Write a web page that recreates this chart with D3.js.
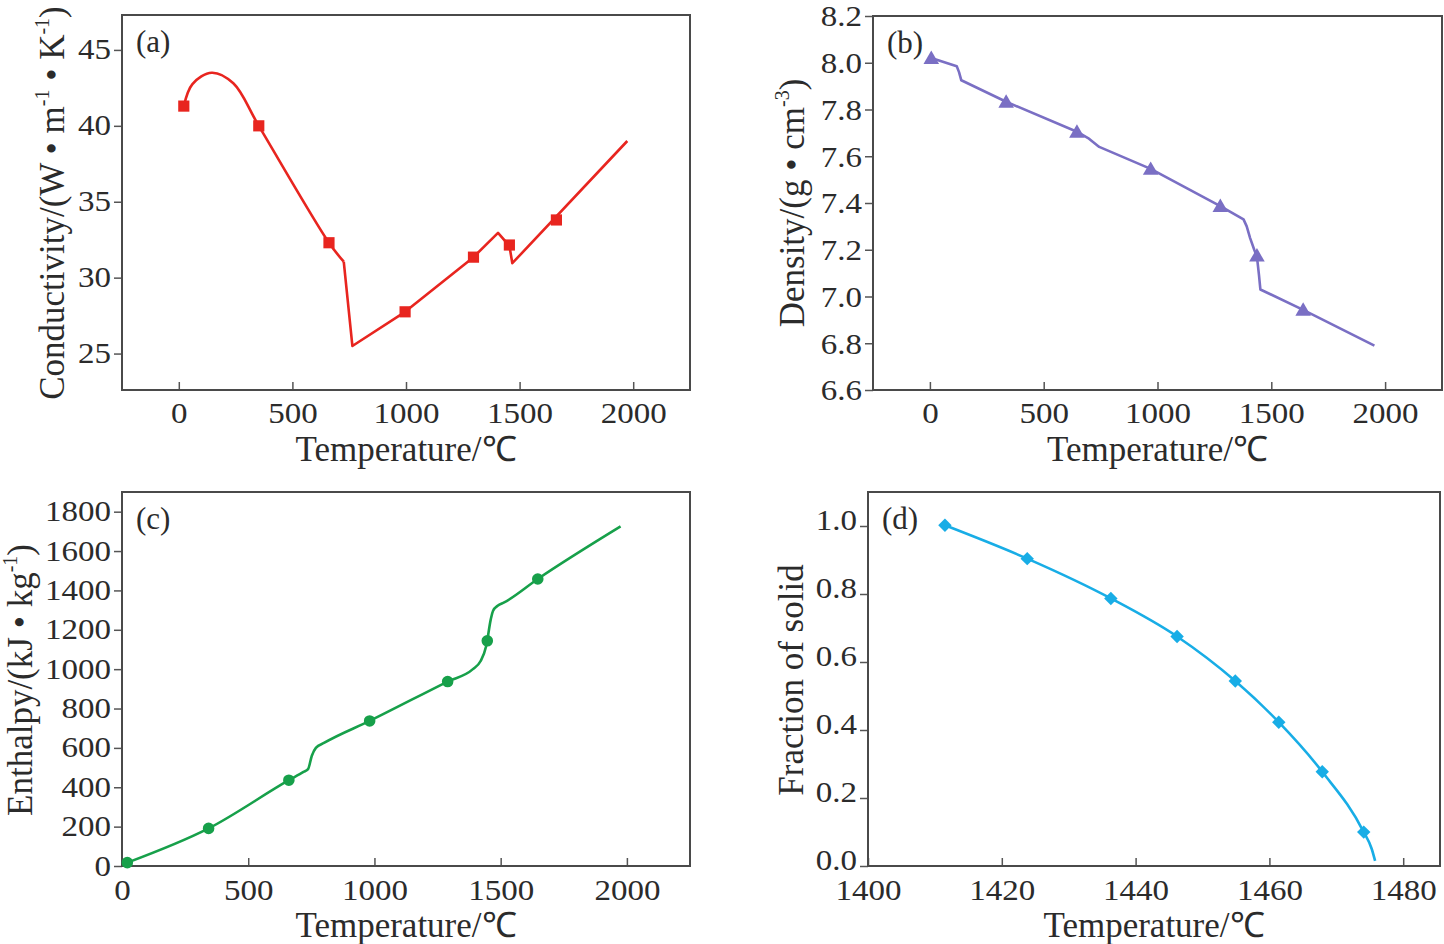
<!DOCTYPE html>
<html>
<head>
<meta charset="utf-8">
<script src="https://cdn.jsdelivr.net/npm/d3@7"></script>
<style>
  html, body { margin: 0; padding: 0; background: #fff; }
  svg { display: block; }
  text { font-family: "Liberation Serif", "Times New Roman", serif; fill: #2b2b2b; }
</style>
</head>
<body>
<svg id="chart" width="1444" height="944"></svg>
<script>
// ---------- DATA ----------
// (a) Conductivity
const condSmooth = [[22,41.3],[60,42.75],[145,43.5],[240,42.8],[352,40.0],[661,32.3],[726,31.05]];
const condLinear = [[726,31.05],[764,25.5],[996,27.75],[1297,31.35],[1405,32.95],[1455,32.1],[1468,30.95],[1974,39.0]];
const condMarkers = [[22,41.3],[352,40.0],[661,32.3],[996,27.75],[1297,31.35],[1455,32.15],[1662,33.8]];
// (b) Density
const densLine = [[6,8.02],[118,7.985],[128,7.96],[138,7.925],[335,7.833],[646,7.705],[695,7.678],[744,7.64],[970,7.546],[1276,7.387],[1378,7.33],[1392,7.30],[1407,7.25],[1425,7.20],[1437,7.17],[1446,7.09],[1452,7.03],[1640,6.943],[1953,6.79]];
const densMarkers = [[6,8.02],[335,7.833],[646,7.705],[970,7.546],[1276,7.387],[1437,7.175],[1640,6.943]];
// (c) Enthalpy
const enthLine = [[21,17],[343,191],[661,436],[719,478],[737,492],[752,560],[768,600],[800,625],[981,737],[1290,937],[1390,1000],[1420,1040],[1443,1119],[1461,1254],[1470,1297],[1488,1322],[1514,1339],[1647,1458],[1975,1725]];
const enthMarkers = [[21,17],[343,191],[661,436],[981,737],[1290,937],[1447,1144],[1647,1458]];
// (d) Fraction of solid
const fracLine = [[1411.5,1.002],[1423.8,0.904],[1436.3,0.787],[1446.2,0.675],[1454.9,0.544],[1461.4,0.423],[1467.9,0.277],[1474.1,0.0997],[1475.3,0.05],[1475.8,0.015]];
const fracMarkers = [[1411.5,1.002],[1423.8,0.904],[1436.3,0.787],[1446.2,0.675],[1454.9,0.544],[1461.4,0.423],[1467.9,0.277],[1474.1,0.0997]];

// ticks
const xTicksTemp = [0,500,1000,1500,2000];
const xTicksSolid = [1400,1420,1440,1460,1480];
const yTicksCond = [25,30,35,40,45];
const yTicksDens = [6.6,6.8,7.0,7.2,7.4,7.6,7.8,8.0,8.2];
const yTicksEnth = [0,200,400,600,800,1000,1200,1400,1600,1800];
const yTicksFrac = [0.0,0.2,0.4,0.6,0.8,1.0];

const panelLabels = ["(a)","(b)","(c)","(d)"];
const xTitle = "Temperature/\u2103";

// ---------- DRAW ----------
const svg = d3.select("#chart");
const TICK_FS = 30, TICK_SX = 1.1, TITLE_FS = 35;

const panels = [
  { label: panelLabels[0], box: {l:122, r:690, t:15, b:390}, xd:[-250,2250], yd:[22.6,47.3],
    xt: xTicksTemp, yt: yTicksCond, yf: d3.format("d"), ydy: "0.3em", xly: 33, color:"#e8251f", sym:"square",
    lines:[{pts:condSmooth, curve:d3.curveCatmullRom.alpha(0.5)},{pts:condLinear, curve:d3.curveLinear}], markers: condMarkers,
    ytitle: [["Conductivity/(W \u2022 m",0],["-1",1],[" \u2022 K",0],["-1",1],[")",0]], ytx: 64, yty: 203 },
  { label: panelLabels[1], box: {l:873, r:1442, t:16, b:390}, xd:[-250,2250], yd:[6.6,8.2],
    xt: xTicksTemp, yt: yTicksDens, yf: d3.format(".1f"), ydy: "0.33em", xly: 33, color:"#7a6fc4", sym:"triangle",
    lines:[{pts:densLine, curve:d3.curveLinear}], markers: densMarkers,
    ytitle: [["Density/(g \u2022 cm",0],["-3",1],[")",0]], ytx: 804, yty: 203 },
  { label: panelLabels[2], box: {l:122, r:690, t:492, b:866}, xd:[0,2250], yd:[0,1900],
    xt: xTicksTemp, yt: yTicksEnth, yf: d3.format("d"), ydy: "0.3em", xly: 34, color:"#17a04a", sym:"circle",
    lines:[{pts:enthLine, curve:d3.curveMonotoneX}], markers: enthMarkers,
    ytitle: [["Enthalpy/(kJ \u2022 kg",0],["-1",1],[")",0]], ytx: 32, yty: 680 },
  { label: panelLabels[3], box: {l:868, r:1440, t:492, b:866}, xd:[1400,1485.5], yd:[0,1.1],
    xt: xTicksSolid, yt: yTicksFrac, yf: d3.format(".1f"), ydy: "0.1em", xly: 34, color:"#18ade6", sym:"diamond",
    lines:[{pts:fracLine, curve:d3.curveMonotoneX}], markers: fracMarkers,
    ytitle: [["Fraction of solid",0]], ytx: 803, yty: 680 }
];

panels.forEach(p => {
  const B = p.box;
  const x = d3.scaleLinear().domain(p.xd).range([B.l, B.r]);
  const y = d3.scaleLinear().domain(p.yd).range([B.b, B.t]);
  const g = svg.append("g");

  // x axis (ticks inside)
  const xa = g.append("g").attr("transform", `translate(0,${B.b})`)
    .call(d3.axisBottom(x).tickValues(p.xt).tickSizeInner(-8).tickSizeOuter(0).tickFormat(d3.format("d")));
  xa.select(".domain").remove();
  xa.selectAll(".tick line").attr("stroke","#555").attr("stroke-width",1.5);
  xa.selectAll(".tick text").attr("y", p.xly).attr("dy", 0).attr("font-size", TICK_FS)
    .attr("transform", `scale(${TICK_SX},1)`)
    .attr("font-family",'"Liberation Serif", serif').attr("fill","#2b2b2b");

  // y axis (ticks outside)
  const ya = g.append("g").attr("transform", `translate(${B.l},0)`)
    .call(d3.axisLeft(y).tickValues(p.yt).tickSizeInner(8).tickSizeOuter(0).tickPadding(2).tickFormat(p.yf));
  ya.select(".domain").remove();
  ya.selectAll(".tick line").attr("stroke","#555").attr("stroke-width",1.5);
  ya.selectAll(".tick text").attr("font-size", TICK_FS).attr("dy", p.ydy)
    .attr("transform", `scale(${TICK_SX},1)`)
    .attr("font-family",'"Liberation Serif", serif').attr("fill","#2b2b2b");

  // frame
  g.append("rect").attr("x", B.l).attr("y", B.t).attr("width", B.r - B.l).attr("height", B.b - B.t)
    .attr("fill","none").attr("stroke","#4a4a4a").attr("stroke-width",2);

  // lines
  p.lines.forEach(L => {
    const line = d3.line().x(d => x(d[0])).y(d => y(d[1])).curve(L.curve);
    g.append("path").datum(L.pts).attr("d", line).attr("fill","none")
      .attr("stroke", p.color).attr("stroke-width", 2.6).attr("stroke-linejoin","round");
  });

  // markers
  const symType = {square:d3.symbolSquare, triangle:d3.symbolTriangle, circle:d3.symbolCircle, diamond:d3.symbolSquare}[p.sym];
  const symSize = {square:125, triangle:105, circle:105, diamond:90}[p.sym];
  const rot = p.sym === "diamond" ? 45 : 0;
  const dy = p.sym === "triangle" ? 1.5 : 0;
  g.selectAll(".mk").data(p.markers).join("path")
    .attr("d", d3.symbol().type(symType).size(symSize))
    .attr("transform", d => `translate(${x(d[0])},${y(d[1]) + dy}) rotate(${rot})`)
    .attr("fill", p.color);

  // panel label
  g.append("text").attr("x", B.l + 14).attr("y", B.t + 37).attr("font-size", 31).text(p.label);

  // x title
  g.append("text").attr("x", (B.l + B.r) / 2).attr("y", B.b + 71).attr("text-anchor","middle")
    .attr("font-size", TITLE_FS).text(xTitle);

  // y title
  const yt = g.append("text").attr("transform", `translate(${p.ytx},${p.yty}) rotate(-90)`)
    .attr("text-anchor","middle").attr("font-size", TITLE_FS);
  p.ytitle.forEach(([s, sup], i) => {
    const prevSup = i > 0 && p.ytitle[i-1][1];
    const ts = yt.append("tspan").text(s);
    if (sup) ts.attr("font-size", 20).attr("dy", -15);
    else if (prevSup) ts.attr("dy", 15);
  });
});
</script>
</body>
</html>
